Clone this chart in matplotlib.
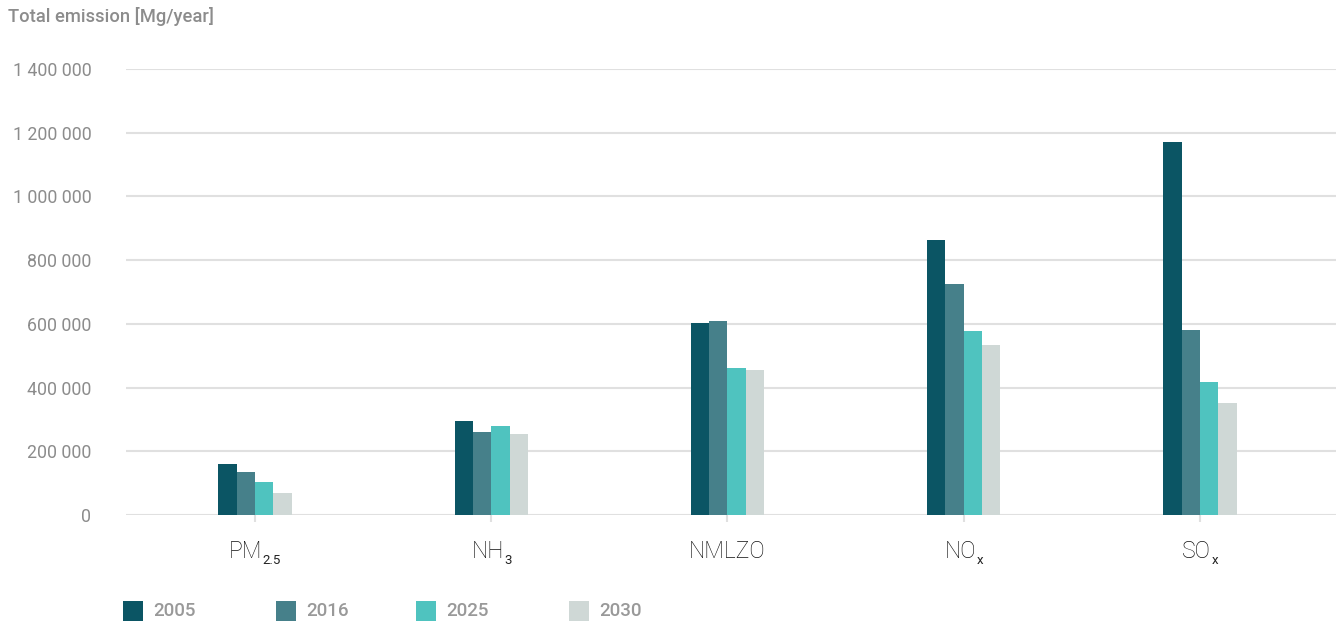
import matplotlib
matplotlib.use("Agg")
import numpy as np
import matplotlib.pyplot as plt
import matplotlib.transforms as mtransforms
from matplotlib.patches import Rectangle
from matplotlib.ticker import FuncFormatter

plt.rcParams['font.family'] = ['Roboto', 'DejaVu Sans']

# label text and its subscript part
pollutants = ['PM', 'NH', 'NMLZO', 'NO', 'SO']
subscripts = ['2.5', '3', '', 'x', 'x']
years = ['2005', '2016', '2025', '2030']
values_2005 = [161000, 294000, 604000, 862000, 1170000]
values_2016 = [136000, 262000, 610000, 724000, 580000]
values_2025 = [104000, 278000, 462000, 579000, 418000]
values_2030 = [70000, 253000, 456000, 534000, 353000]
colors = ['#0b5564', '#46808a', '#4fc3bf', '#cfd8d6']

series = [values_2005, values_2016, values_2025, values_2030]

fig = plt.figure(figsize=(13.4, 6.22), dpi=100)
ax = fig.add_axes([126 / 1340, 107 / 622, 1210 / 1340, 446 / 622])

x = np.arange(len(pollutants))
width = 0.0775
for i, vals in enumerate(series):
    ax.bar(x + (i - 1.5) * width, vals, width, color=colors[i], zorder=3, linewidth=0)

ax.set_xlim(-0.546, 4.576)
ax.set_ylim(0, 1400000)
ax.set_yticks(np.arange(0, 1400001, 200000))
ax.yaxis.set_major_formatter(FuncFormatter(lambda v, p: f"{v:,.0f}".replace(',', ' ')))
ax.grid(axis='y', color='#e0e0e0', linewidth=1.5, zorder=0)
ax.set_axisbelow(True)
for s in ax.spines.values():
    s.set_visible(False)

ax.tick_params(axis='y', length=0, pad=25, labelsize=12.8, labelcolor='#8c8c8c')
ax.tick_params(axis='x', length=5, width=1.5, color='#e0e0e0')
ax.set_xticks(x)
ax.set_xticklabels([])

# x labels with a lowered subscript, centred as a whole on the tick
renderer = fig.canvas.get_renderer()
base = ax.get_xaxis_transform()
for xi, main, sub in zip(x, pollutants, subscripts):
    t1 = ax.text(xi, 0, main, transform=base, fontsize=16.5, fontweight='light',
                 color='#111111', ha='left', va='baseline')
    w = t1.get_window_extent(renderer).width
    if sub:
        t2 = ax.annotate(sub, xy=(1, 0), xycoords=t1, xytext=(0.3, -1.0),
                         textcoords='offset points', fontsize=9.5,
                         color='#222222', ha='left', va='baseline')
        w += t2.get_window_extent(renderer).width
    t1.set_transform(mtransforms.offset_copy(base, fig, x=-w / 2, y=-43, units='dots'))

fig.text(8 / 1340, 1 - 17 / 622, 'Total emission [Mg/year]', fontsize=13.2,
         fontweight='medium', color='#8c8c8c', va='center', ha='left')

# legend drawn by hand so the spacing matches
legend_x = [123, 276, 416, 569]
for i, yr in enumerate(years):
    fig.add_artist(Rectangle((legend_x[i] / 1340, 1 / 622), 20 / 1340, 20 / 622,
                             transform=fig.transFigure, color=colors[i], linewidth=0))
    fig.text((legend_x[i] + 30) / 1340, 11 / 622, yr, fontsize=13.5, fontweight='medium',
             color='#999999', va='center', ha='left')

fig.savefig('out.png', dpi=100)
